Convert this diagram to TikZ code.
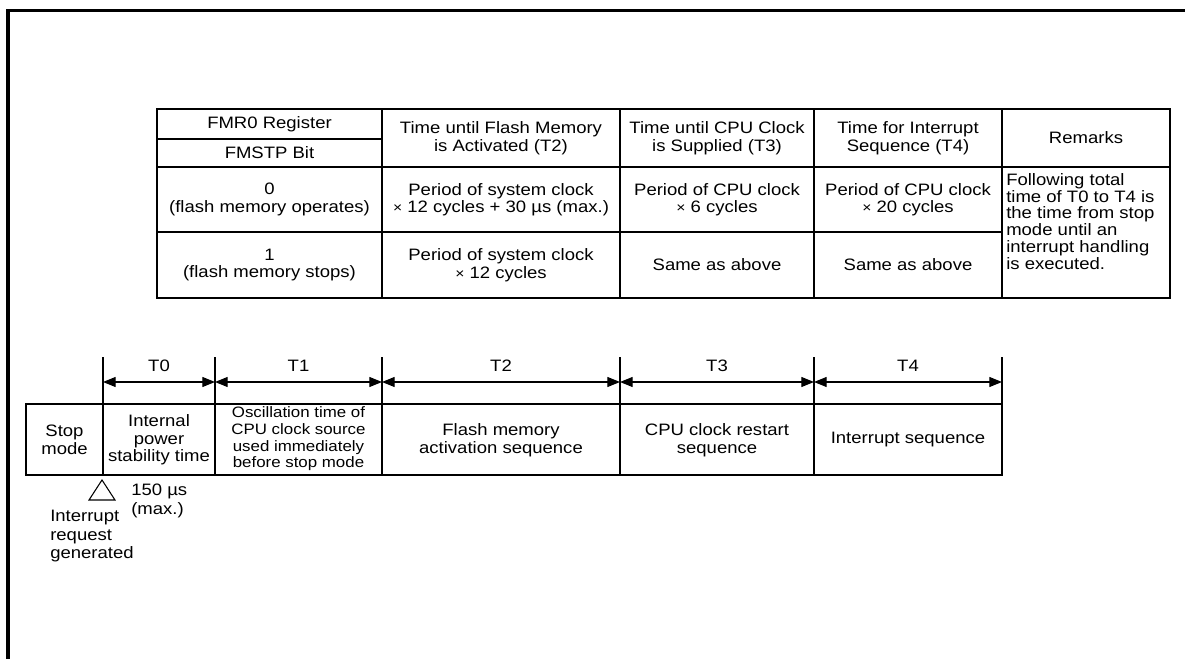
\documentclass[tikz,border=0pt]{standalone}
\usepackage{fontspec}
\setmainfont{Liberation Sans}[FakeStretch=1.12]
\usetikzlibrary{arrows.meta}
\begin{document}
\begin{tikzpicture}[x=0.75pt,y=-0.75pt,
  txt/.style={font=\fontsize{12.4}{13.1}\selectfont, align=center, inner sep=0pt},
  sm/.style={font=\fontsize{11.3}{12.5}\selectfont, align=center, inner sep=0pt},
  lft/.style={font=\fontsize{12.4}{14}\selectfont, align=left, inner sep=0pt},
  rem/.style={font=\fontsize{12.4}{12.6}\selectfont, align=left, inner sep=0pt},
  frame/.style={line width=2.7pt},
  outer/.style={line width=1.3pt},
  grid/.style={line width=0.8pt},
  dim/.style={line width=0.8pt, {Triangle[length=9.5pt,width=7.5pt]}-{Triangle[length=9.5pt,width=7.5pt]}}
]
\newcommand{\tms}{{\fontsize{10.5}{10.5}\selectfont ×}}
\useasboundingbox (0,0) rectangle (1185,659);
% page frame
\draw[frame] (8,661) -- (8,10.5) -- (1187,10.5);

% ---------- table ----------
\draw[grid] (157,139) -- (382,139);
\draw[grid] (157,167) -- (1170,167);
\draw[grid] (157,232) -- (1002,232);
\foreach \x in {382,620,814,1002} \draw[grid] (\x,109) -- (\x,298);
\draw[outer] (157,109) rectangle (1170,298);

\node[txt] (h1a) at (269.5,124) {FMR0 Register};
\node[txt] (h1b) at (269.5,153) {FMSTP Bit};
\node[txt] (h2) at (501,138) {Time until Flash Memory\\is Activated (T2)};
\node[txt] (h3) at (717,138) {Time until CPU Clock\\is Supplied (T3)};
\node[txt] (h4) at (908,138) {Time for Interrupt\\Sequence (T4)};
\node[txt] (h5) at (1086,138) {Remarks};

\node[txt] (r1c1) at (269.5,199.5) {0\\(flash memory operates)};
\node[txt] (r1c2) at (501,199.5) {Period of system clock\\\tms{} 12 cycles + 30 µs (max.)};
\node[txt] (r1c3) at (717,199.5) {Period of CPU clock\\\tms{} 6 cycles};
\node[txt] (r1c4) at (908,199.5) {Period of CPU clock\\\tms{} 20 cycles};

\node[txt] (r2c1) at (269.5,265) {1\\(flash memory stops)};
\node[txt] (r2c2) at (501,265) {Period of system clock\\\tms{} 12 cycles};
\node[txt] (r2c3) at (717,265) {Same as above};
\node[txt] (r2c4) at (908,265) {Same as above};

\node[rem, anchor=north west] (remtxt) at (1006,173) {Following total\\time of T0 to T4 is\\the time from stop\\mode until an\\interrupt handling\\is executed.};

% ---------- timing diagram ----------
\foreach \x in {103,215,382,620,814,1002} \draw[grid] (\x,357) -- (\x,475);
\draw[grid] (26,404) rectangle (1002,475);

\coordinate (a0) at (103,382);
\coordinate (a1) at (215,382);
\coordinate (a2) at (382,382);
\coordinate (a3) at (620,382);
\coordinate (a4) at (814,382);
\coordinate (a5) at (1002,382);
\draw[dim] (a0) -- (a1);
\draw[dim] (a1) -- (a2);
\draw[dim] (a2) -- (a3);
\draw[dim] (a3) -- (a4);
\draw[dim] (a4) -- (a5);

\node[txt] (T0) at (159,366) {T0};
\node[txt] (T1) at (298.5,366) {T1};
\node[txt] (T2) at (501,366) {T2};
\node[txt] (T3) at (717,366) {T3};
\node[txt] (T4) at (908,366) {T4};

\node[txt] (c0) at (64.5,440) {Stop\\mode};
\node[txt] (c1) at (159,440) {Internal\\power\\stability time};
\node[sm] (c2) at (298.5,439) {Oscillation time of\\CPU clock source\\used immediately\\before stop mode};
\node[txt] (c3) at (501,440) {Flash memory\\activation sequence};
\node[txt] (c4) at (717,440) {CPU clock restart\\sequence};
\node[txt] (c5) at (908,440) {Interrupt sequence};

\draw[grid] (102,480) -- (115,500) -- (89,500) -- cycle;
\node[lft, anchor=north west] (max) at (131,484) {150 µs\\(max.)};
\node[lft, anchor=north west] (irq) at (50,510) {Interrupt\\request\\generated};
\end{tikzpicture}
\end{document}
